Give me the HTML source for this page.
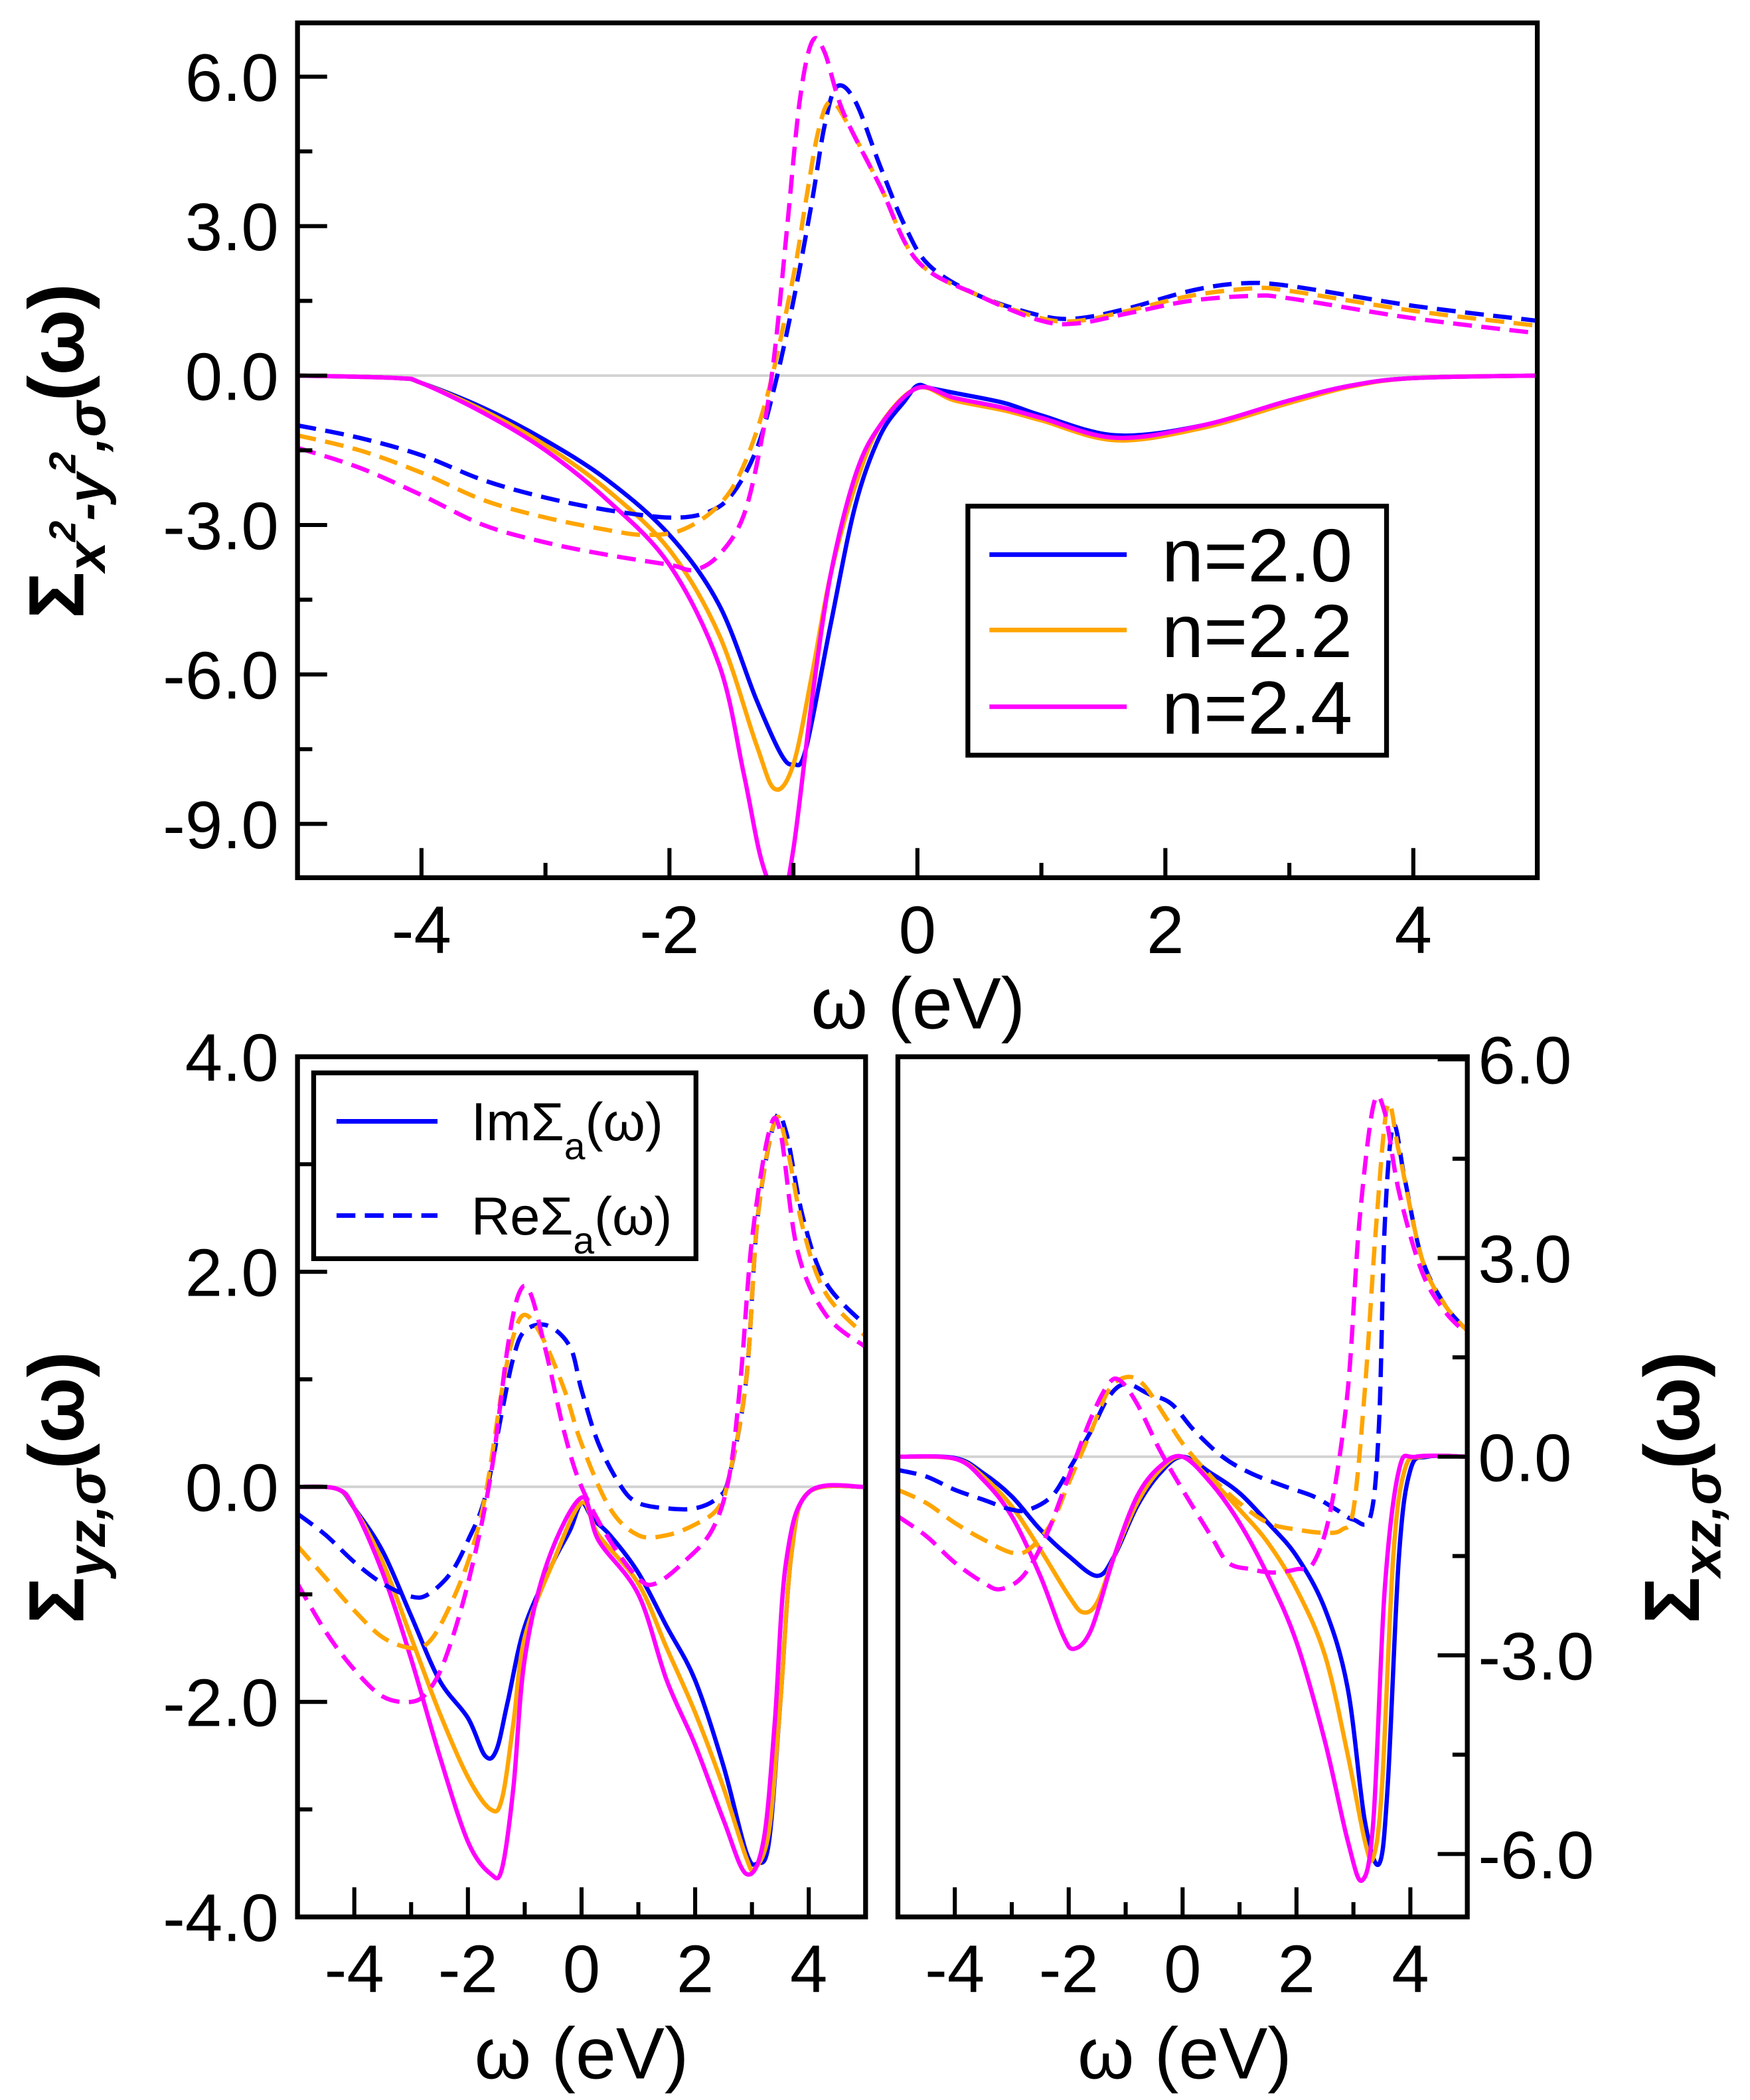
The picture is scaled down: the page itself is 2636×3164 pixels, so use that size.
<!DOCTYPE html>
<html><head><meta charset="utf-8"><style>
html,body{margin:0;padding:0;background:#fff}
svg{display:block}
text{font-family:"Liberation Sans",sans-serif}
</style></head><body>
<svg id="chart" width="2636" height="3164" viewBox="0 0 1300 1560" preserveAspectRatio="none" xmlns="http://www.w3.org/2000/svg">
<defs>
<clipPath id="c1"><rect x="221" y="17" width="921" height="635"/></clipPath>
<clipPath id="c2"><rect x="221" y="785" width="422" height="639"/></clipPath>
<clipPath id="c3"><rect x="667" y="785" width="423" height="639"/></clipPath>
</defs>
<g id="layer"></g>
</svg>
<script>
// ---- data (omega, value) ----
const topImN20=[[-5,0],[-4.2,-0.05],[-4,-0.15],[-3.5,-0.65],[-3,-1.3],[-2.5,-2.1],[-2,-3.2],[-1.6,-4.6],[-1.3,-6.5],[-1.1,-7.6],[-1.0,-7.8],[-0.9,-7.5],[-0.7,-5.0],[-0.5,-2.6],[-0.3,-1.2],[-0.1,-0.5],[0,-0.2],[0.1,-0.25],[0.3,-0.35],[0.7,-0.55],[1.0,-0.8],[1.6,-1.2],[2.3,-1.0],[3,-0.5],[3.5,-0.2],[4,-0.05],[5,0]];
const topImN22=[[-5,0],[-4.2,-0.05],[-4,-0.15],[-3.5,-0.7],[-3,-1.4],[-2.5,-2.3],[-2,-3.5],[-1.6,-5.2],[-1.3,-7.4],[-1.15,-8.3],[-1.0,-7.8],[-0.85,-6.0],[-0.7,-4.0],[-0.5,-2.2],[-0.3,-1.0],[0,-0.25],[0.3,-0.5],[0.7,-0.7],[1.0,-0.9],[1.6,-1.3],[2.3,-1.05],[3,-0.55],[3.5,-0.22],[4,-0.05],[5,0]];
const topImN24=[[-5,0],[-4.2,-0.05],[-4,-0.15],[-3.5,-0.75],[-3,-1.5],[-2.5,-2.5],[-2,-3.8],[-1.6,-5.8],[-1.4,-8],[-1.25,-9.8],[-1.1,-10.5],[-1.0,-9.5],[-0.85,-6.5],[-0.7,-4.0],[-0.5,-2.0],[-0.3,-1.0],[0,-0.25],[0.3,-0.45],[0.7,-0.65],[1.0,-0.85],[1.6,-1.25],[2.3,-1.0],[3,-0.5],[3.5,-0.2],[4,-0.05],[5,0]];
const topReN20=[[-5,-1.0],[-4.5,-1.25],[-4,-1.6],[-3.5,-2.1],[-3,-2.45],[-2.5,-2.7],[-2,-2.85],[-1.7,-2.75],[-1.5,-2.4],[-1.3,-1.5],[-1.15,-0.2],[-1.0,1.5],[-0.85,3.5],[-0.75,5.0],[-0.65,5.8],[-0.5,5.5],[-0.3,4.2],[-0.1,3.0],[0.1,2.2],[0.5,1.6],[1.0,1.2],[1.3,1.15],[1.7,1.35],[2.2,1.7],[2.6,1.85],[3,1.8],[4,1.4],[5,1.1]];
const topReN22=[[-5,-1.2],[-4.5,-1.5],[-4,-1.95],[-3.5,-2.5],[-3,-2.85],[-2.5,-3.1],[-2.2,-3.2],[-1.9,-3.1],[-1.6,-2.6],[-1.4,-1.8],[-1.2,-0.3],[-1.0,2.0],[-0.9,3.5],[-0.8,4.9],[-0.7,5.5],[-0.55,5.0],[-0.3,3.8],[0,2.3],[0.5,1.6],[1.0,1.15],[1.3,1.1],[1.7,1.3],[2.2,1.6],[2.7,1.75],[3,1.7],[4,1.3],[5,1.0]];
const topReN24=[[-5,-1.45],[-4.5,-1.85],[-4,-2.4],[-3.5,-3.0],[-3,-3.35],[-2.5,-3.6],[-2.0,-3.8],[-1.8,-3.9],[-1.6,-3.6],[-1.4,-2.8],[-1.25,-1.2],[-1.15,0.5],[-1.05,3.0],[-0.95,5.5],[-0.85,6.7],[-0.75,6.5],[-0.6,5.3],[-0.3,3.8],[0,2.3],[0.5,1.6],[1.0,1.1],[1.3,1.05],[1.7,1.25],[2.2,1.5],[2.7,1.6],[3,1.55],[4,1.15],[5,0.85]];

const yzImN20=[[-5,0],[-4.3,-0.02],[-4,-0.2],[-3.5,-0.6],[-3,-1.2],[-2.5,-1.8],[-2,-2.15],[-1.7,-2.5],[-1.5,-2.45],[-1.3,-2.0],[-1.0,-1.3],[-0.5,-0.7],[-0.2,-0.4],[0,-0.15],[0.2,-0.3],[0.5,-0.45],[1,-0.8],[1.5,-1.3],[2,-1.8],[2.5,-2.6],[2.9,-3.4],[3.1,-3.5],[3.3,-3.3],[3.5,-2.0],[3.7,-0.6],[4,-0.05],[5,0]];
const yzImN22=[[-5,0],[-4.3,-0.02],[-4,-0.2],[-3.5,-0.7],[-3,-1.4],[-2.5,-2.1],[-2,-2.7],[-1.6,-3.0],[-1.4,-2.9],[-1.2,-2.2],[-1,-1.4],[-0.5,-0.7],[0,-0.15],[0.3,-0.45],[1,-0.9],[1.5,-1.5],[2,-2.1],[2.5,-2.8],[2.9,-3.45],[3.05,-3.55],[3.3,-3.2],[3.5,-2.0],[3.7,-0.6],[4,-0.05],[5,0]];
const yzImN24=[[-5,0],[-4.3,-0.02],[-4,-0.2],[-3.5,-0.8],[-3,-1.6],[-2.5,-2.5],[-2,-3.3],[-1.6,-3.6],[-1.4,-3.55],[-1.2,-2.8],[-1,-1.6],[-0.6,-0.7],[0,-0.1],[0.3,-0.5],[1,-1.0],[1.5,-1.8],[2,-2.4],[2.5,-3.1],[2.9,-3.6],[3.2,-3.3],[3.4,-2.2],[3.6,-0.7],[4,-0.05],[5,0]];
const yzReN20=[[-5,-0.25],[-4.5,-0.45],[-4,-0.7],[-3.5,-0.9],[-3,-1.02],[-2.7,-1.0],[-2.3,-0.8],[-2,-0.5],[-1.7,-0.1],[-1.4,0.7],[-1.2,1.2],[-1.0,1.45],[-0.6,1.5],[-0.2,1.3],[0,0.9],[0.3,0.4],[0.7,0.0],[1.0,-0.15],[1.5,-0.2],[2,-0.2],[2.4,-0.1],[2.6,0.1],[2.9,1.0],[3.1,2.5],[3.4,3.4],[3.6,3.3],[3.9,2.5],[4.3,1.9],[5,1.5]];
const yzReN22=[[-5,-0.55],[-4.5,-0.85],[-4,-1.15],[-3.5,-1.4],[-3,-1.5],[-2.7,-1.45],[-2.4,-1.2],[-2,-0.7],[-1.7,-0.1],[-1.4,0.9],[-1.2,1.4],[-1.0,1.6],[-0.7,1.4],[-0.3,0.9],[0,0.4],[0.5,-0.2],[1,-0.45],[1.5,-0.45],[2,-0.35],[2.4,-0.2],[2.6,0.1],[2.9,1.0],[3.1,2.5],[3.4,3.4],[3.6,3.2],[3.9,2.4],[4.3,1.8],[5,1.4]];
const yzReN24=[[-5,-0.9],[-4.5,-1.35],[-4,-1.7],[-3.5,-1.95],[-3,-2.0],[-2.7,-1.9],[-2.4,-1.6],[-2,-0.9],[-1.6,0.1],[-1.3,1.3],[-1.1,1.8],[-0.9,1.8],[-0.6,1.2],[-0.3,0.5],[0,0.0],[0.5,-0.5],[1,-0.85],[1.3,-0.9],[1.8,-0.7],[2.3,-0.4],[2.6,0.1],[2.8,1.0],[3.0,2.3],[3.3,3.3],[3.5,3.3],[3.8,2.2],[4.3,1.6],[5,1.3]];

const xzImN20=[[-5,0],[-4,-0.02],[-3.5,-0.25],[-3,-0.6],[-2.5,-1.1],[-2,-1.5],[-1.5,-1.8],[-1.2,-1.5],[-0.8,-0.75],[-0.4,-0.25],[0,0.0],[0.5,-0.25],[1,-0.55],[1.5,-1.0],[2,-1.5],[2.5,-2.3],[2.9,-3.5],[3.2,-5.5],[3.45,-6.15],[3.6,-5.0],[3.8,-1.5],[4,-0.2],[4.3,0],[5,0]];
const xzImN22=[[-5,0],[-4,-0.03],[-3.5,-0.3],[-3,-0.75],[-2.5,-1.4],[-2,-2.1],[-1.75,-2.35],[-1.5,-2.2],[-1.2,-1.5],[-0.8,-0.7],[-0.4,-0.2],[0,0.0],[0.5,-0.35],[1,-0.8],[1.5,-1.3],[2,-2.0],[2.5,-3.0],[2.9,-4.5],[3.2,-5.8],[3.35,-6.05],[3.5,-5.0],[3.7,-1.5],[3.9,-0.2],[4.2,0],[5,0]];
const xzImN24=[[-5,0],[-4,-0.03],[-3.5,-0.35],[-3,-0.9],[-2.5,-1.8],[-2.1,-2.7],[-1.9,-2.9],[-1.6,-2.6],[-1.2,-1.5],[-0.8,-0.6],[-0.4,-0.15],[0,0.0],[0.5,-0.4],[1,-1.0],[1.5,-1.8],[2,-2.8],[2.5,-4.3],[2.9,-5.8],[3.15,-6.4],[3.35,-5.5],[3.55,-2.0],[3.8,-0.2],[4.1,0],[5,0]];
const xzReN20=[[-5,-0.2],[-4.5,-0.3],[-4,-0.5],[-3.5,-0.65],[-3,-0.8],[-2.7,-0.8],[-2.3,-0.6],[-2,-0.2],[-1.6,0.4],[-1.3,0.9],[-1.0,1.1],[-0.6,0.95],[-0.2,0.8],[0.2,0.4],[0.7,0.0],[1.2,-0.25],[1.8,-0.45],[2.3,-0.6],[2.7,-0.8],[3.0,-0.95],[3.3,-0.9],[3.45,0.5],[3.55,3.5],[3.7,5.0],[3.9,4.2],[4.2,3.0],[4.6,2.3],[5,1.9]];
const xzReN22=[[-5,-0.5],[-4.5,-0.7],[-4,-1.0],[-3.5,-1.25],[-3,-1.45],[-2.7,-1.4],[-2.3,-1.0],[-2,-0.4],[-1.6,0.4],[-1.3,1.0],[-1.0,1.2],[-0.7,1.1],[-0.3,0.6],[0,0.2],[0.5,-0.3],[1,-0.7],[1.5,-1.0],[2,-1.1],[2.5,-1.15],[2.8,-1.1],[3.0,-0.8],[3.2,1.0],[3.4,3.5],[3.6,5.3],[3.8,4.6],[4.2,3.0],[4.6,2.3],[5,1.9]];
const xzReN24=[[-5,-0.9],[-4.5,-1.2],[-4,-1.6],[-3.5,-1.9],[-3.2,-2.0],[-2.8,-1.8],[-2.4,-1.2],[-2,-0.3],[-1.6,0.6],[-1.3,1.1],[-1.1,1.15],[-0.8,0.8],[-0.4,0.1],[0,-0.5],[0.5,-1.2],[0.8,-1.6],[1.2,-1.7],[1.6,-1.75],[2.0,-1.7],[2.3,-1.6],[2.6,-0.8],[2.9,1.0],[3.1,3.5],[3.35,5.3],[3.55,5.2],[3.8,4.0],[4.2,2.8],[4.6,2.2],[5,1.85]];

const topYTicks=["6.0","3.0","0.0","-3.0","-6.0","-9.0"];
const yzYTicks=["4.0","2.0","0.0","-2.0","-4.0"];
const xzYTicks=["6.0","3.0","0.0","-3.0","-6.0"];
const xTickLabels=["-4","-2","0","2","4"];

const NS="http://www.w3.org/2000/svg";
const layer=document.getElementById('layer');
function mk(tag,attrs,parent){const e=document.createElementNS(NS,tag);for(const k in attrs)e.setAttribute(k,attrs[k]);(parent||layer).appendChild(e);return e;}
const BLUE="#0000ff",ORANGE="#ffa500",MAG="#ff00ff";
const FS=50;

function panel(p){
  const sx=v=>p.x0+(v-p.xmin)/(p.xmax-p.xmin)*(p.x1-p.x0);
  const sy=v=>p.y1-(v-p.ymin)/(p.ymax-p.ymin)*(p.y1-p.y0);
  return Object.assign(p,{sx,sy});
}
function pathD(pts,P){
  const q=pts.map(d=>[P.sx(d[0]),P.sy(d[1])]);
  let d="M"+q[0][0].toFixed(2)+","+q[0][1].toFixed(2);
  for(let i=0;i<q.length-1;i++){
    const p0=q[Math.max(0,i-1)],p1=q[i],p2=q[i+1],p3=q[Math.min(q.length-1,i+2)];
    const c1=[p1[0]+(p2[0]-p0[0])/6,p1[1]+(p2[1]-p0[1])/6];
    const c2=[p2[0]-(p3[0]-p1[0])/6,p2[1]-(p3[1]-p1[1])/6];
    d+="C"+c1[0].toFixed(2)+","+c1[1].toFixed(2)+" "+c2[0].toFixed(2)+","+c2[1].toFixed(2)+" "+p2[0].toFixed(2)+","+p2[1].toFixed(2);
  }
  return d;
}
function drawPanel(P,id,series,yTickVals,yLabels,yMinor,rightAxis){
  const g=mk('g',{});
  
  
  const zl=mk('line',{x1:P.x0,x2:P.x1,y1:P.sy(0),y2:P.sy(0),stroke:"#d3d3d3","stroke-width":2},g);
  
  
  const cg=mk('g',{"clip-path":"url(#"+P.clip+")"},g);
  series.forEach(s=>{
    const e=mk('path',{d:pathD(s.data,P),fill:"none",stroke:s.color,"stroke-width":3.2,"stroke-dasharray":s.dash?"14,7":"none","stroke-linejoin":"round"},cg);
    
    
  });
  [-4,-3,-2,-1,0,1,2,3,4].forEach(v=>{
    const L=(v%2===0)?22:11;
    const t=mk('line',{x1:P.sx(v),x2:P.sx(v),y1:P.y1,y2:P.y1-L,stroke:"#000","stroke-width":3},g);
    
    
  });
  xTickLabels.forEach(s=>{
    const t=mk('text',{x:P.sx(parseFloat(s)),y:P.y1+56,"font-size":FS,"text-anchor":"middle"},g);
    t.textContent=s;
    
    
  });
  const ax=rightAxis?P.x1:P.x0, dir=rightAxis?-1:1;
  yTickVals.forEach((v,i)=>{
    const t=mk('line',{x1:ax,x2:ax+dir*22,y1:P.sy(v),y2:P.sy(v),stroke:"#000","stroke-width":3},g);
    
    
    const lb=mk('text',{x:rightAxis?ax+8:ax-14,y:P.sy(v)+18,"font-size":FS,"text-anchor":rightAxis?"start":"end"},g);
    lb.textContent=yLabels[i];
    
    
  });
  yMinor.forEach(v=>{
    const t=mk('line',{x1:ax,x2:ax+dir*11,y1:P.sy(v),y2:P.sy(v),stroke:"#000","stroke-width":3},g);
    
    
  });
  const fr=mk('rect',{x:P.x0,y:P.y0,width:P.x1-P.x0,height:P.y1-P.y0,fill:"none",stroke:"#000","stroke-width":3.6},g);
  
  
  return g;
}
function ser(im,re,names){return [
 {data:im[0],color:BLUE,dash:false,name:names+'-im-n20'},{data:im[1],color:ORANGE,dash:false,name:names+'-im-n22'},{data:im[2],color:MAG,dash:false,name:names+'-im-n24'},
 {data:re[0],color:BLUE,dash:true,name:names+'-re-n20'},{data:re[1],color:ORANGE,dash:true,name:names+'-re-n22'},{data:re[2],color:MAG,dash:true,name:names+'-re-n24'}];}

const P1=panel({x0:221,x1:1142,y0:17,y1:652,xmin:-5,xmax:5,ymin:-10.08,ymax:7.08,clip:'c1'});
drawPanel(P1,'top',ser([topImN20,topImN22,topImN24],[topReN20,topReN22,topReN24],'top'),topYTicks.map(Number),topYTicks,[4.5,1.5,-1.5,-4.5,-7.5],false);
const P2=panel({x0:221,x1:643,y0:785,y1:1424,xmin:-5,xmax:5,ymin:-4,ymax:4,clip:'c2'});
drawPanel(P2,'yz',ser([yzImN20,yzImN22,yzImN24],[yzReN20,yzReN22,yzReN24],'yz'),yzYTicks.map(Number),yzYTicks,[3,1,-1,-3],false);
const P3=panel({x0:667,x1:1090,y0:785,y1:1424,xmin:-5,xmax:5,ymin:-6.95,ymax:6.04,clip:'c3'});
drawPanel(P3,'xz',ser([xzImN20,xzImN22,xzImN24],[xzReN20,xzReN22,xzReN24],'xz'),xzYTicks.map(Number),xzYTicks,[4.5,1.5,-1.5,-4.5],true);
</script>
<svg style="position:absolute;left:0;top:0" width="2636" height="3164" viewBox="0 0 1300 1560" preserveAspectRatio="none" xmlns="http://www.w3.org/2000/svg">
<text x="682" y="764" font-size="54" text-anchor="middle">ω (eV)</text>
<text x="432" y="1544" font-size="54" text-anchor="middle">ω (eV)</text>
<text x="880" y="1544" font-size="54" text-anchor="middle">ω (eV)</text>
<text transform="translate(62,335) rotate(-90)" text-anchor="middle" font-family="Liberation Serif" font-weight="bold" font-size="58">Σ<tspan font-style="italic" font-size="40" dy="16">x</tspan><tspan font-style="italic" font-size="28" dy="-22">2</tspan><tspan font-style="italic" font-size="40" dy="22">-y</tspan><tspan font-style="italic" font-size="28" dy="-22">2</tspan><tspan font-style="italic" font-size="40" dy="22">,σ</tspan><tspan dy="-16">(ω)</tspan></text>
<text transform="translate(62,1105) rotate(-90)" text-anchor="middle" font-family="Liberation Serif" font-weight="bold" font-size="58">Σ<tspan font-style="italic" font-size="40" dy="16">yz,σ</tspan><tspan dy="-16">(ω)</tspan></text>
<text transform="translate(1262,1105) rotate(-90)" text-anchor="middle" font-family="Liberation Serif" font-weight="bold" font-size="58">Σ<tspan font-style="italic" font-size="40" dy="16">xz,σ</tspan><tspan dy="-16">(ω)</tspan></text>
<g>
<rect x="719" y="376" width="311" height="185" fill="#fff" stroke="#000" stroke-width="3.6"/>
<line x1="735" x2="837" y1="412" y2="412" stroke="#0000ff" stroke-width="3.4"/>
<line x1="735" x2="837" y1="468" y2="468" stroke="#ffa500" stroke-width="3.4"/>
<line x1="735" x2="837" y1="525" y2="525" stroke="#ff00ff" stroke-width="3.4"/>
<text x="863" y="432" font-size="56">n=2.0</text>
<text x="863" y="488" font-size="56">n=2.2</text>
<text x="863" y="545" font-size="56">n=2.4</text>
</g>
<g>
<rect x="233" y="797" width="284" height="138" fill="#fff" stroke="#000" stroke-width="3.6"/>
<line x1="250" x2="325" y1="833" y2="833" stroke="#0000ff" stroke-width="3.4"/>
<line x1="250" x2="325" y1="903" y2="903" stroke="#0000ff" stroke-width="3.4" stroke-dasharray="14,7"/>
<text x="350" y="847" font-size="40">ImΣ<tspan font-size="28" dy="14">a</tspan><tspan dy="-14">(ω)</tspan></text>
<text x="350" y="917" font-size="40">ReΣ<tspan font-size="28" dy="14">a</tspan><tspan dy="-14">(ω)</tspan></text>
</g>
</svg>
</body></html>
